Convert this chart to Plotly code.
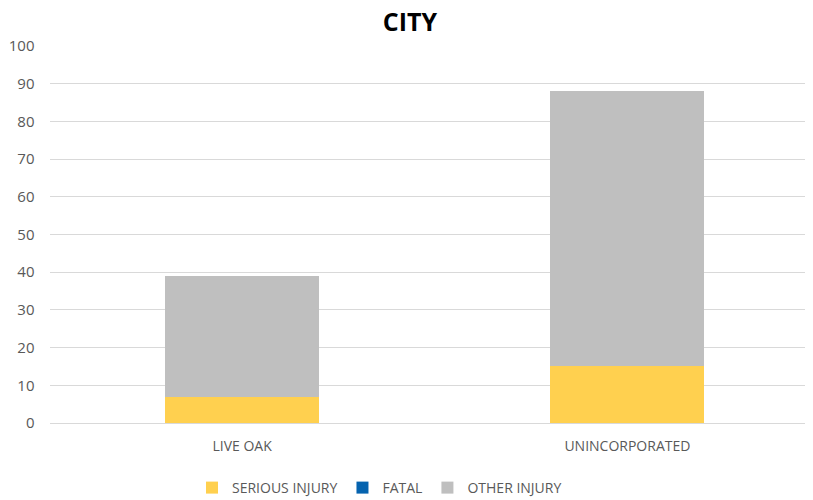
import plotly.graph_objects as go

categories = ["LIVE OAK", "UNINCORPORATED"]
serious_injury = [7, 15]
fatal = [0, 0]
other_injury = [32, 73]
y_ticks = [0, 10, 20, 30, 40, 50, 60, 70, 80, 90, 100]

FONT = "Open Sans, Liberation Sans, sans-serif"
W, H = 813, 500

fig = go.Figure()
fig.add_bar(name="SERIOUS INJURY", x=categories, y=serious_injury, marker_color="#FFD04F", marker_line_width=0)
fig.add_bar(name="FATAL", x=categories, y=fatal, marker_color="#0563AF", marker_line_width=0)
fig.add_bar(name="OTHER INJURY", x=categories, y=other_injury, marker_color="#BFBFBF", marker_line_width=0)

fig.update_layout(
    barmode="stack",
    bargap=0.6,
    width=W, height=H,
    paper_bgcolor="white", plot_bgcolor="white",
    margin=dict(l=0, r=0, t=0, b=0),
    font=dict(family=FONT, size=14, color="#595959"),
    title=dict(text="<b>CITY</b>", x=402 / W, xanchor="center", y=1 - 14 / H, yanchor="middle",
               font=dict(size=25, color="#000000", family=FONT)),
    legend=dict(orientation="h", x=184 / W, xanchor="left", y=1 - 480 / H, yanchor="middle",
                font=dict(size=14, color="#595959"), traceorder="normal",
                itemwidth=30),
    showlegend=True,
)
fig.update_yaxes(range=[0, 100], tickvals=y_ticks, showgrid=True, gridcolor="#D9D9D9", gridwidth=1,
                 zeroline=False, showline=False, ticks="", automargin=False,
                 domain=[1 - 415 / H, 1 - 38 / H], ticklabelstandoff=14, tickfont=dict(size=15))
fig.update_xaxes(showline=True, linecolor="#D9D9D9", linewidth=1, ticks="", tickfont=dict(size=14),
                 automargin=False, domain=[41.5 / W, 812 / W], ticklabelstandoff=10)

fig.write_html("out.html")
